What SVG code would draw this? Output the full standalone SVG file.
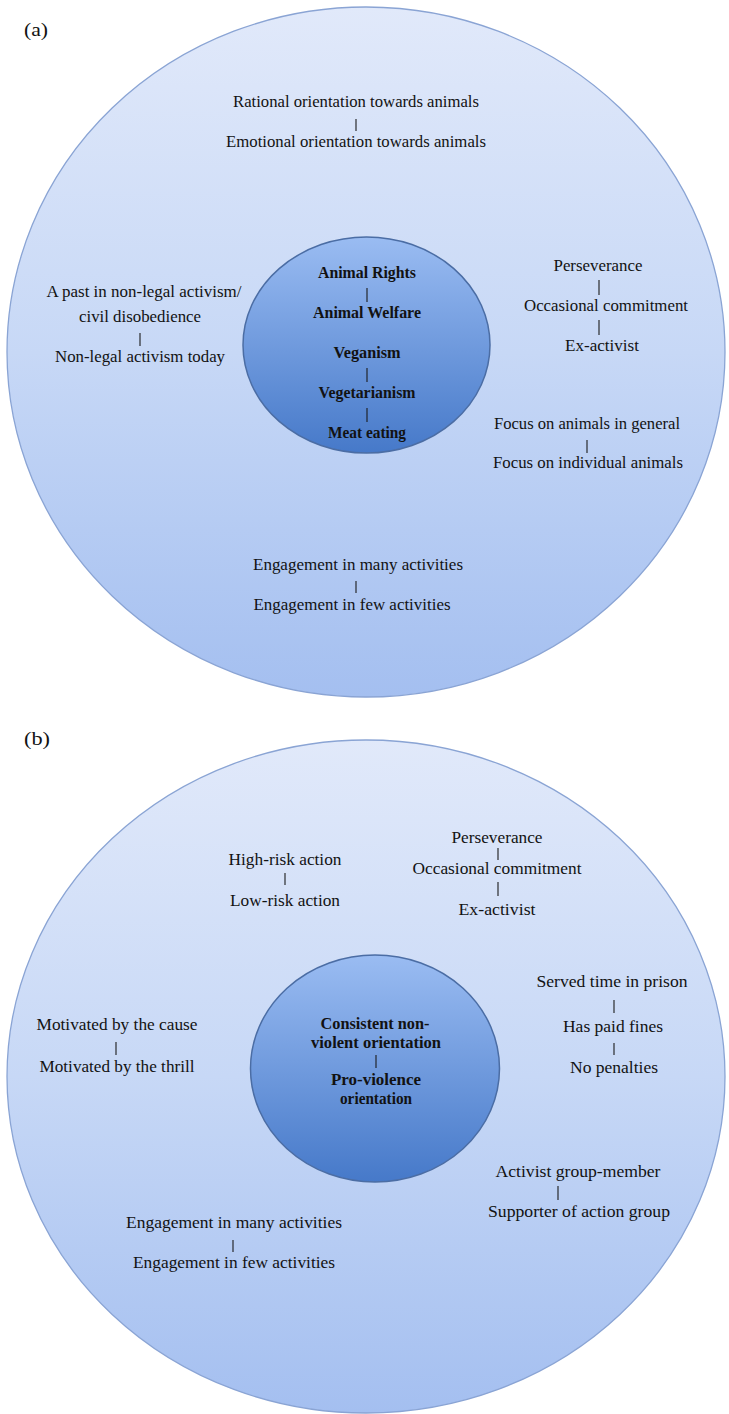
<svg xmlns="http://www.w3.org/2000/svg" width="729" height="1414" viewBox="0 0 729 1414">
  <defs>
    <linearGradient id="outerFill" x1="0" y1="0" x2="0" y2="1">
      <stop offset="0" stop-color="#e1e9fa"/>
      <stop offset="0.5" stop-color="#c7d8f6"/>
      <stop offset="1" stop-color="#a4bff0"/>
    </linearGradient>
    <linearGradient id="innerFill" x1="0" y1="0" x2="0" y2="1">
      <stop offset="0" stop-color="#9abcf2"/>
      <stop offset="1" stop-color="#4679c9"/>
    </linearGradient>
    <style>
      .outer { fill: url(#outerFill); stroke: #8aa4d4; stroke-width: 1.3; }
      .inner { fill: url(#innerFill); stroke: #4b6da4; stroke-width: 1.5; }
      text { font-family: "Liberation Serif", "Times New Roman", serif; font-size: 17px; fill: #121212; text-anchor: middle; }
      .b { font-weight: bold; }
      .tag { font-size: 18px; text-anchor: start; }
      .sep { stroke: #1a1a1a; stroke-width: 1.1; }
    </style>
  </defs>

  <!-- Panel (a) -->
  <text class="tag" x="24" y="36" textLength="24" lengthAdjust="spacingAndGlyphs">(a)</text>
  <g id="a-outer"><ellipse class="outer" cx="366" cy="352" rx="359" ry="345"/></g>
  <g id="a-inner"><ellipse class="inner" cx="366.5" cy="345" rx="123.5" ry="108"/></g>

  <g id="a-orientation">
    <text x="356" y="107" textLength="246" lengthAdjust="spacingAndGlyphs">Rational orientation towards animals</text>
    <text x="356" y="147" textLength="260" lengthAdjust="spacingAndGlyphs">Emotional orientation towards animals</text>
  </g>
  <g id="a-core">
    <text class="b" x="367" y="278" textLength="98" lengthAdjust="spacingAndGlyphs">Animal Rights</text>
    <text class="b" x="367" y="318" textLength="108" lengthAdjust="spacingAndGlyphs">Animal Welfare</text>
    <text class="b" x="367" y="358" textLength="67" lengthAdjust="spacingAndGlyphs">Veganism</text>
    <text class="b" x="367" y="398" textLength="97" lengthAdjust="spacingAndGlyphs">Vegetarianism</text>
    <text class="b" x="367" y="438" textLength="78" lengthAdjust="spacingAndGlyphs">Meat eating</text>
  </g>
  <g id="a-legality">
    <text x="144" y="297" textLength="195" lengthAdjust="spacingAndGlyphs">A past in non-legal activism/</text>
    <text x="140" y="322" textLength="122" lengthAdjust="spacingAndGlyphs">civil disobedience</text>
    <text x="140" y="362" textLength="170" lengthAdjust="spacingAndGlyphs">Non-legal activism today</text>
  </g>
  <g id="a-commitment">
    <text x="598" y="271" textLength="89" lengthAdjust="spacingAndGlyphs">Perseverance</text>
    <text x="606" y="311" textLength="164" lengthAdjust="spacingAndGlyphs">Occasional commitment</text>
    <text x="602" y="351" textLength="74" lengthAdjust="spacingAndGlyphs">Ex-activist</text>
  </g>
  <g id="a-focus">
    <text x="587" y="429" textLength="186" lengthAdjust="spacingAndGlyphs">Focus on animals in general</text>
    <text x="588" y="468" textLength="190" lengthAdjust="spacingAndGlyphs">Focus on individual animals</text>
  </g>
  <g id="a-engagement">
    <text x="358" y="570" textLength="210" lengthAdjust="spacingAndGlyphs">Engagement in many activities</text>
    <text x="352" y="610" textLength="197" lengthAdjust="spacingAndGlyphs">Engagement in few activities</text>
  </g>

  <!-- Panel (b) -->
  <text class="tag" x="24" y="745" textLength="26" lengthAdjust="spacingAndGlyphs">(b)</text>
  <g id="b-outer"><ellipse class="outer" cx="366" cy="1076.5" rx="359" ry="336.5"/></g>
  <g id="b-inner"><ellipse class="inner" cx="375" cy="1068.5" rx="124.5" ry="113.5"/></g>

  <g id="b-risk">
    <text x="285" y="865" textLength="113" lengthAdjust="spacingAndGlyphs">High-risk action</text>
    <text x="285" y="906" textLength="110" lengthAdjust="spacingAndGlyphs">Low-risk action</text>
  </g>
  <g id="b-commitment">
    <text x="497" y="843" textLength="91" lengthAdjust="spacingAndGlyphs">Perseverance</text>
    <text x="497" y="874" textLength="169" lengthAdjust="spacingAndGlyphs">Occasional commitment</text>
    <text x="497" y="915" textLength="77" lengthAdjust="spacingAndGlyphs">Ex-activist</text>
  </g>
  <g id="b-penalties">
    <text x="612" y="987" textLength="151" lengthAdjust="spacingAndGlyphs">Served time in prison</text>
    <text x="613" y="1032" textLength="100" lengthAdjust="spacingAndGlyphs">Has paid fines</text>
    <text x="614" y="1073" textLength="88" lengthAdjust="spacingAndGlyphs">No penalties</text>
  </g>
  <g id="b-motivation">
    <text x="117" y="1030" textLength="161" lengthAdjust="spacingAndGlyphs">Motivated by the cause</text>
    <text x="117" y="1072" textLength="155" lengthAdjust="spacingAndGlyphs">Motivated by the thrill</text>
  </g>
  <g id="b-core">
    <text class="b" x="375" y="1029" textLength="109" lengthAdjust="spacingAndGlyphs">Consistent non-</text>
    <text class="b" x="376" y="1048" textLength="130" lengthAdjust="spacingAndGlyphs">violent orientation</text>
    <text class="b" x="376" y="1085" textLength="90" lengthAdjust="spacingAndGlyphs">Pro-violence</text>
    <text class="b" x="376" y="1104" textLength="72" lengthAdjust="spacingAndGlyphs">orientation</text>
  </g>
  <g id="b-membership">
    <text x="578" y="1177" textLength="165" lengthAdjust="spacingAndGlyphs">Activist group-member</text>
    <text x="579" y="1217" textLength="182" lengthAdjust="spacingAndGlyphs">Supporter of action group</text>
  </g>
  <g id="b-engagement">
    <text x="234" y="1228" textLength="216" lengthAdjust="spacingAndGlyphs">Engagement in many activities</text>
    <text x="234" y="1268" textLength="202" lengthAdjust="spacingAndGlyphs">Engagement in few activities</text>
  </g>

  <!-- Separators between opposite poles -->
  <g id="connectors" class="sep">
    <line x1="356" y1="119" x2="356" y2="131"/>
    <line x1="367" y1="288" x2="367" y2="302"/>
    <line x1="367" y1="368" x2="367" y2="382"/>
    <line x1="367" y1="408" x2="367" y2="422"/>
    <line x1="140" y1="333" x2="140" y2="346"/>
    <line x1="599" y1="280" x2="599" y2="295"/>
    <line x1="599" y1="320" x2="599" y2="335"/>
    <line x1="587" y1="440" x2="587" y2="453"/>
    <line x1="356" y1="581" x2="356" y2="593"/>
    <line x1="285" y1="873" x2="285" y2="885"/>
    <line x1="498" y1="848" x2="498" y2="860"/>
    <line x1="498" y1="882" x2="498" y2="896"/>
    <line x1="614" y1="1000" x2="614" y2="1013"/>
    <line x1="614" y1="1043" x2="614" y2="1055"/>
    <line x1="116" y1="1042" x2="116" y2="1055"/>
    <line x1="376" y1="1055" x2="376" y2="1068"/>
    <line x1="558" y1="1186" x2="558" y2="1200"/>
    <line x1="233" y1="1240" x2="233" y2="1252"/>
  </g>
</svg>
